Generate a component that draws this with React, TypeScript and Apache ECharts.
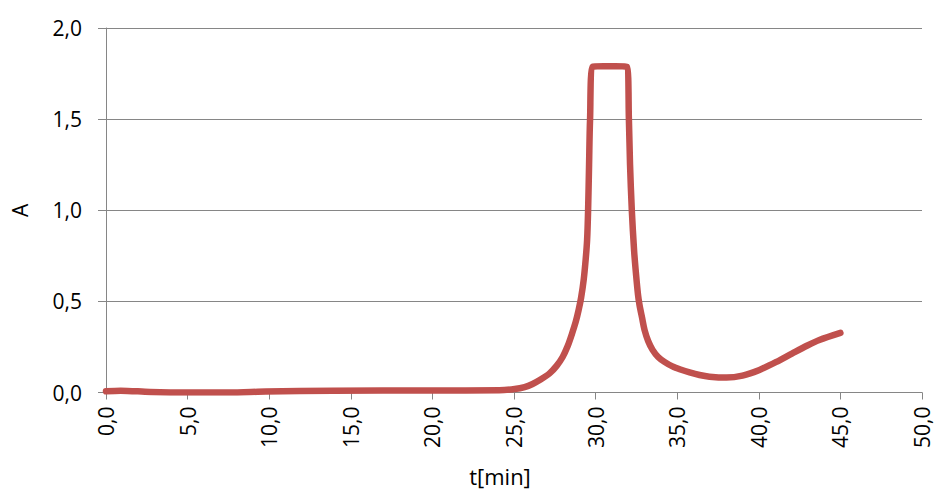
import React, { useEffect, useRef } from "react";
import * as echarts from "echarts";

const timeMin = [
  0, 0.9, 2.7, 5.1, 7.5, 9.8, 13.9, 20.0, 24.1, 25.04, 25.65, 26.14, 26.63,
  27.18, 27.61, 27.98, 28.29, 28.53, 28.78, 28.96, 29.11, 29.27, 29.39, 29.48,
  29.54, 29.6, 29.66, 29.82, 30.5, 31.2, 31.92, 32.04, 32.11, 32.22, 32.36,
  32.48, 32.6, 32.69, 32.85, 33.0, 33.22, 33.49, 33.83, 34.22, 34.71, 35.2,
  35.76, 36.37, 36.98, 38.02, 39.0, 40.04, 41.08, 42.06, 42.98, 43.71, 45.0,
];
const absorbance = [
  0.007, 0.01, 0.003, 0.0, 0.0, 0.005, 0.01, 0.011, 0.012, 0.019, 0.03, 0.047,
  0.071, 0.105, 0.146, 0.195, 0.255, 0.316, 0.387, 0.453, 0.519, 0.618, 0.728,
  0.838, 0.998, 1.25, 1.497, 1.788, 1.79, 1.79, 1.788, 1.5, 1.25, 0.998, 0.777,
  0.646, 0.536, 0.481, 0.409, 0.343, 0.283, 0.234, 0.195, 0.168, 0.143, 0.126,
  0.11, 0.096, 0.087, 0.082, 0.093, 0.124, 0.168, 0.215, 0.258, 0.288, 0.327,
];

const xTicks = { min: 0, max: 50, interval: 5 };
const yTicks = { min: 0, max: 2, interval: 0.5 };

const fmt = (v: number) => v.toFixed(1).replace(".", ",");

export default function App() {
  const ref = useRef<HTMLDivElement>(null);
  useEffect(() => {
    if (!ref.current) return;
    const chart = echarts.init(ref.current, null, { renderer: "svg" });
    const gray = "#868686";
    const font = "'Open Sans', sans-serif";
    chart.setOption({
      animation: false,
      backgroundColor: "#ffffff",
      grid: {
        left: 106,
        right: 14,
        top: 28,
        bottom: 98.5,
        containLabel: false,
        outerBoundsMode: "none",
      },
      xAxis: {
        type: "value",
        min: xTicks.min,
        max: xTicks.max,
        interval: xTicks.interval,
        name: "t[min]",
        nameLocation: "middle",
        nameGap: 72,
        nameTextStyle: { fontFamily: font, fontSize: 22, color: "#000", padding: [0, 28, 0, 0] },
        axisLine: { show: true, lineStyle: { color: gray, width: 1 } },
        axisTick: { show: true, length: 7, lineStyle: { color: gray } },
        splitLine: { show: false },
        axisLabel: {
          rotate: 90,
          margin: 14,
          fontFamily: font,
          fontSize: 21,
          color: "#000",
          formatter: (v: number) => fmt(v),
        },
      },
      yAxis: {
        type: "value",
        min: yTicks.min,
        max: yTicks.max,
        interval: yTicks.interval,
        name: "A",
        nameLocation: "middle",
        nameGap: 76,
        nameRotate: 90,
        nameTextStyle: { fontFamily: font, fontSize: 21, color: "#000" },
        axisLine: { show: true, lineStyle: { color: gray, width: 1 } },
        axisTick: { show: true, length: 8, lineStyle: { color: gray } },
        splitLine: { show: true, lineStyle: { color: gray, width: 1 } },
        axisLabel: {
          margin: 24,
          fontFamily: font,
          fontSize: 21,
          color: "#000",
          formatter: (v: number) => fmt(v),
        },
      },
      series: [
        {
          type: "line",
          data: timeMin.map((t, i) => [t, absorbance[i]]),
          showSymbol: false,
          smooth: 0.3,
          lineStyle: { color: "#C0504D", width: 6.5, cap: "round", join: "round" },
          itemStyle: { color: "#C0504D" },
        },
      ],
    });
    return () => chart.dispose();
  }, []);
  return (
    <div
      ref={ref}
      style={{ position: "fixed", left: 0, top: 0, width: 936, height: 491 }}
    />
  );
}
